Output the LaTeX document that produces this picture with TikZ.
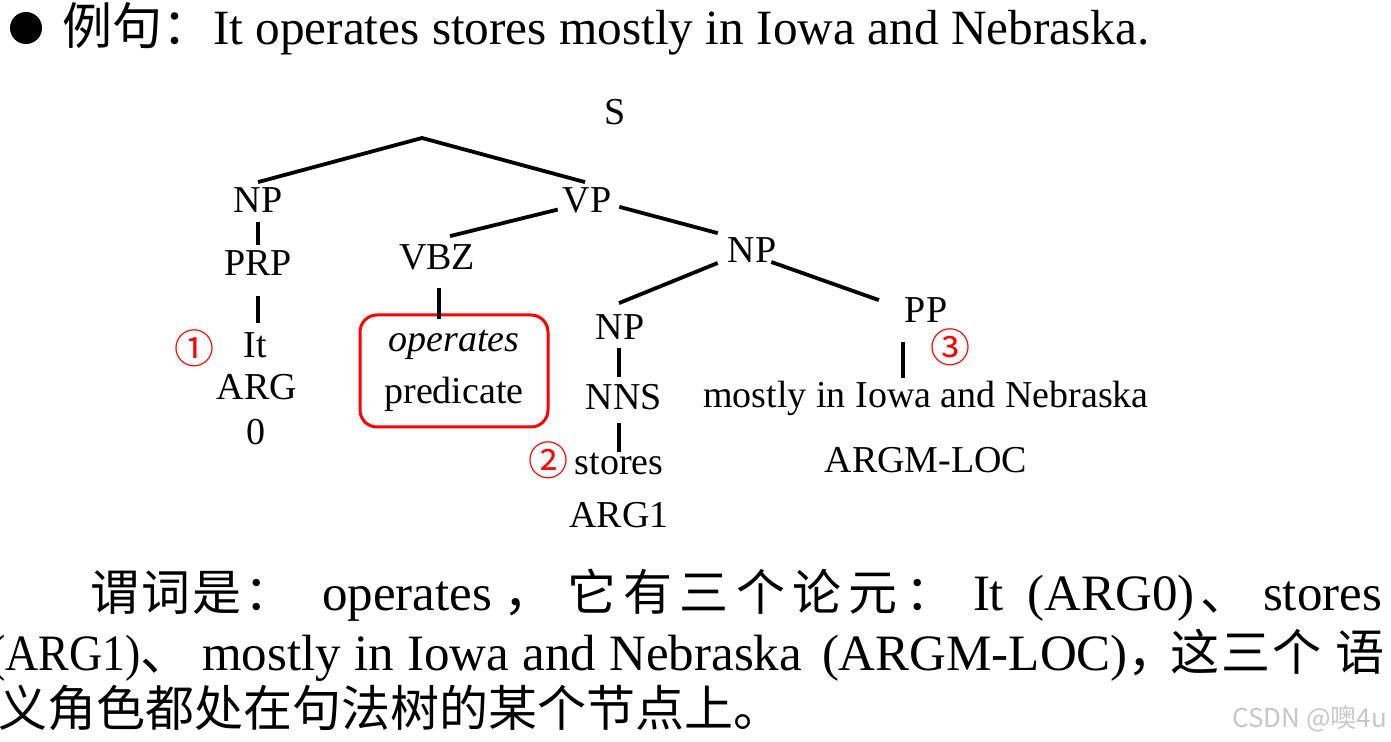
\documentclass[tikz,border=0pt]{standalone}
\usepackage{tikz}
\usepackage{xcolor}
\usepackage{fontspec}
\setmainfont{Liberation Serif}
\newfontfamily\narrowserif[FakeStretch=0.9]{Liberation Serif}
\newfontfamily\cjk{Noto Sans CJK SC}
\newfontfamily\cjkwide[LetterSpace=15]{Noto Sans CJK SC}
\newfontfamily\cjkmid[LetterSpace=5]{Noto Sans CJK SC}
\usetikzlibrary{calc}
\definecolor{markred}{RGB}{255,0,0}

\begin{document}
\begin{tikzpicture}[
    x=0.5pt, y=-0.5pt,
    lbl/.style={inner sep=0pt, outer sep=0pt, anchor=base, font=\fontsize{19}{19}\selectfont},
    num/.style={inner sep=0pt, text=markred, font=\cjk\fontsize{20}{20}\selectfont},
    body/.style={inner sep=0pt, outer sep=0pt, anchor=base west, font=\fontsize{25.5}{25.5}\selectfont},
    cbody/.style={body, font=\cjk\fontsize{24.5}{24.5}\selectfont},
    branch/.style={line width=1.9pt}
]
\useasboundingbox (0,0) rectangle (1391,742);

% ============ Header ============
\node[circle, fill=black, minimum size=16pt, inner sep=0pt] (dot) at (26,28) {};
\node[cbody, font=\cjk\fontsize{25}{25}\selectfont] (ex) at (62,45) {例句：};
\node[body, font=\fontsize{24.65}{24.65}\selectfont] (sent) at (213,45) {It operates stores mostly in Iowa and Nebraska.};

% ============ Tree ============
\node[lbl] (S) at (615,125) {S};
\coordinate (apex) at (422,138);
\node[lbl] (NPa) at (258,213) {NP};
\node[lbl] (VP) at (587,213) {VP};
\node[lbl] (PRP) at (258,276) {PRP};
\node[lbl] (VBZ) at (437,270) {VBZ};
\node[lbl] (NPb) at (752,263) {NP};
\node[lbl] (NPc) at (620,340) {NP};
\node[lbl] (PP) at (926,323) {PP};
\node[lbl] (NNS) at (624,410) {NNS};

% leaves
\node[lbl] (It) at (255,358) {It};
\node[lbl] (ARG) at (257,400) {ARG};
\node[lbl] (zero) at (256,445) {0};
\node[draw=markred, line width=1.5pt, rounded corners=8.5pt, minimum width=94pt, minimum height=56pt,
      align=center, inner sep=0pt, font=\fontsize{19}{26}\selectfont] (pred) at (454,371) {\textit{operates}\\predicate};
\node[lbl] (stores) at (619,475) {stores};
\node[lbl] (ARGa) at (619,527) {ARG1};
\node[lbl] (mostly) at (926,408) {mostly in Iowa and Nebraska};
\node[lbl] (loc) at (926,473) {ARGM-LOC};

% circled marks
\node[num] (n1) at (194,348) {①};
\node[num] (n2) at (548,460) {②};
\node[num] (n3) at (950,347) {③};

% branches
\draw[branch] ($(NPa.north)+(0,-6)$) -- (apex) -- ($(VP.north)+(-2,-6)$);
\draw[branch] ($(NPa.south)+(0,9)$) -- ($(PRP.north)+(0,-6)$);
\draw[branch] ($(PRP.south)+(0,20)$) -- ($(PRP.south |- It.north)+(0,-10)$);
\draw[branch] ($(VP.south west)+(-5,-4)$) -- ($(VBZ.north)+(13,-9)$);
\draw[branch] ($(VBZ.south)+(2,17)$) -- ($(VBZ.south |- pred.north)+(2,6)$);
\draw[branch] ($(VP.east)+(8,6)$) -- ($(NPb.north west)+(-10,-5)$);
\draw[branch] ($(NPb.south west)+(-10,0)$) -- ($(NPc.north)+(-1,-12)$);
\draw[branch] ($(NPb.south east)+(-5,-1)$) -- ($(PP.north west)+(-26,2)$);
\draw[branch] ($(PP.south)+(-23,19)$) -- ($(PP.south |- mostly.north)+(-23,-4)$);
\draw[branch] ($(NPc.south)+(-1,8)$) -- ($(NPc.south |- NNS.north)+(-1,-8)$);
\draw[branch] ($(NPc.south |- NNS.south)+(-1,13)$) -- ($(NPc.south |- stores.north)+(-1,-2)$);

% ============ Explanation ============
% line 1
\node[cbody, font=\cjkmid\fontsize{24.5}{24.5}\selectfont] (p1a) at (90,610) {谓词是：};
\node[body] (p1b) at (322,610) {operates\hspace{6pt}{\cjk ，}};
\node[cbody, font=\cjkwide\fontsize{24.5}{24.5}\selectfont] (p1c) at (567,610) {它有三个论元：};
\node[body] (p1d) at (973,610) {\makebox[111pt][s]{It (ARG0)}};
\node[cbody] (p1e) at (1200,610) {、};
\node[body] (p1f) at (1263,610) {stores};
% line 2
\node[body, font=\narrowserif\fontsize{25.5}{25.5}\selectfont] (p2a) at (-10,670) {(ARG1){\cjk 、}};
\node[body] (p2b) at (202,670) {\makebox[300pt][s]{mostly in Iowa and Nebraska}};
\node[body] (p2c) at (822,670) {(ARGM-LOC){\cjk ，}};
\node[cbody, font=\cjkmid\fontsize{24.5}{24.5}\selectfont] (p2d) at (1170,670) {这三个};
\node[cbody] (p2e) at (1335,670) {语};
% line 3
\node[cbody] (p3) at (-2,726) {义角色都处在句法树的某个节点上。};

% watermark
\node[inner sep=0pt, anchor=base west, text=black!22, font=\cjk\fontsize{13}{13}\selectfont] (mark) at (1232,727) {CSDN @噢4u};

\end{tikzpicture}
\end{document}
